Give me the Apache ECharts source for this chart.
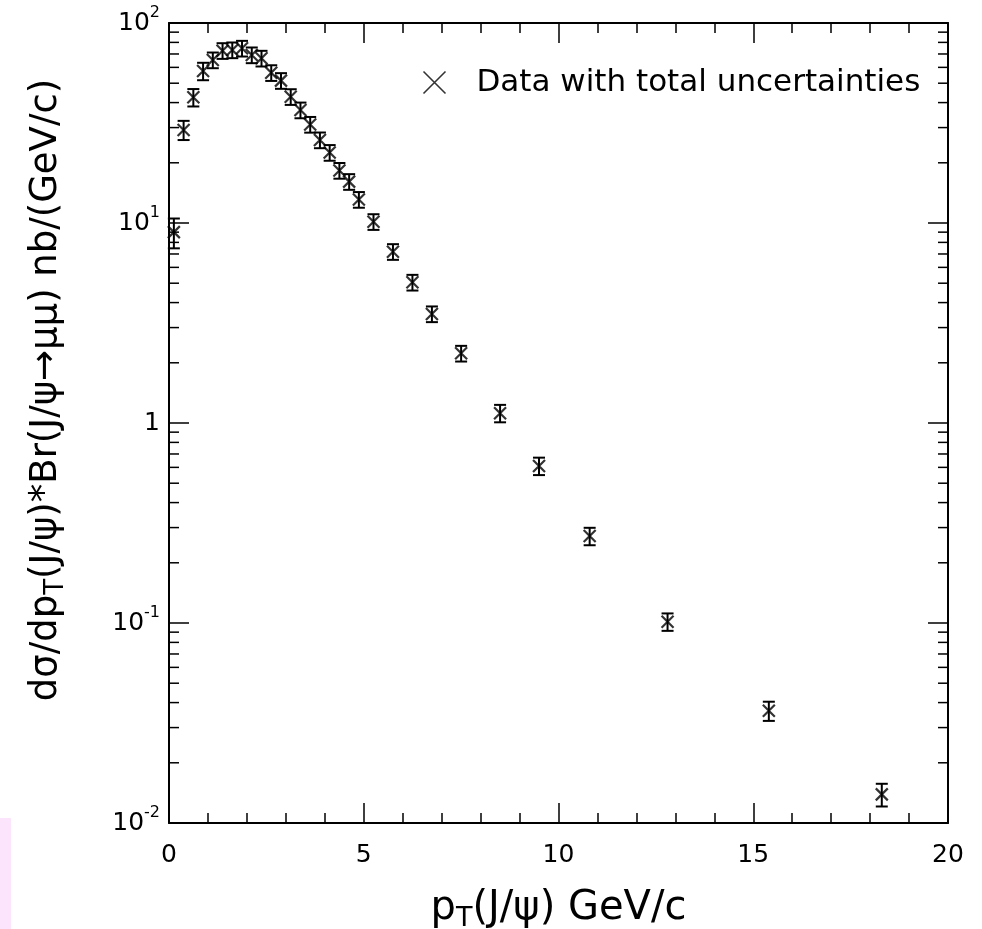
<!DOCTYPE html>
<html>
<head>
<meta charset="utf-8">
<script src="https://cdn.jsdelivr.net/npm/echarts@6/dist/echarts.min.js"></script>
<style>
html,body{margin:0;padding:0;background:#fff;}
#chart{width:982px;height:929px;}
</style>
</head>
<body>
<div id="chart"></div>
<script>
// ---- data ----
const pT = [0.125,0.375,0.625,0.875,1.125,1.375,1.625,1.875,2.125,2.375,2.625,2.875,3.125,3.375,3.625,3.875,4.125,4.375,4.625,4.875,5.25,5.75,6.25,6.75,7.5,8.5,9.5,10.8,12.8,15.4,18.3];
const xsec = [9.0,29.2,42.5,57.5,65.3,72.7,73.3,74.7,69.2,66.6,56.4,51.5,42.8,36.7,31.1,26.0,22.5,18.3,16.1,13.1,10.15,7.19,5.05,3.51,2.23,1.12,0.61,0.272,0.1015,0.0364,0.0139];
const errPct = [17,11,10,10,9,9,9,9,9,9,9,9,9,9,9,9,9,9,9,9,9,9,9,9,9,10,10,10,10,11,13];
const xTicks = [0,5,10,15,20];
const yTickExponents = [-2,-1,0,1,2];
const seriesName = 'Data with total uncertainties';
const xTitle = 'p{sub|T}(J/ψ) GeV/c';
const yTitle = 'dσ/dp{sub|T}(J/ψ)*Br(J/ψ→μμ) nb/(GeV/c)';

// ---- derived ----
const xMin = xTicks[0], xMax = xTicks[xTicks.length-1], xStep = xTicks[1]-xTicks[0];
const yMin = Math.pow(10, yTickExponents[0]);
const yMax = Math.pow(10, yTickExponents[yTickExponents.length-1]);
const yMinorTicks = [];
for (let e = yTickExponents[0]; e < yTickExponents[yTickExponents.length-1]; e++) {
  for (let m = 2; m <= 9; m++) yMinorTicks.push(m * Math.pow(10, e));
}
const pointData = pT.map((x,i)=>[x, xsec[i]]);
const errData = pT.map((x,i)=>[x, xsec[i], xsec[i]*(1-errPct[i]/100), xsec[i]*(1+errPct[i]/100)]);

const FONT = 'DejaVu Sans';
const crossPath = 'path://M0,0L10,10M10,0L0,10';

const axisLineStyle = {color:'#000', width:2};
const tickStyle = {color:'#000', width:1.5};

function yLabel(v){
  const e = Math.round(Math.log10(v));
  if (e === 0) return '{b|1}';
  return '{b|10}{sup|' + e + '}';
}

const chart = echarts.init(document.getElementById('chart'), null, {renderer:'canvas'});
chart.setOption({
  backgroundColor:'#fff',
  animation:false,
  textStyle:{fontFamily:FONT},
  graphic:[{type:'rect', left:0, top:818, shape:{width:11, height:111}, style:{fill:'#fce4fc'}, silent:true}],
  grid:{left:169, right:34, top:23, bottom:106, containLabel:false, outerBoundsMode:'none'},
  legend:{
    show:true, left:416, top:62, itemWidth:22, itemHeight:22,
    data:[{name:seriesName, icon:crossPath, itemStyle:{color:'none', borderColor:'#000', borderWidth:1.6}}],
    textStyle:{fontFamily:FONT, fontSize:31, color:'#000', padding:[0,0,0,26]}
  },
  xAxis:[
    {type:'value', min:xMin, max:xMax, interval:xStep, position:'bottom',
     axisLine:{show:true, onZero:false, lineStyle:axisLineStyle},
     axisTick:{show:true, inside:true, length:20, lineStyle:tickStyle},
     minorTick:{show:true, splitNumber:5, length:10, lineStyle:tickStyle},
     splitLine:{show:false}, minorSplitLine:{show:false},
     axisLabel:{fontFamily:FONT, fontSize:25, color:'#000', margin:20},
     name:xTitle, nameLocation:'middle', nameGap:62,
     nameTextStyle:{fontFamily:FONT, fontSize:40, color:'#000', rich:{sub:{fontFamily:FONT, fontSize:27, color:'#000', padding:[20,0,0,0]}}}
    },
    {type:'value', min:xMin, max:xMax, interval:xStep, position:'top',
     axisLine:{show:true, onZero:false, lineStyle:axisLineStyle},
     axisTick:{show:true, inside:true, length:20, lineStyle:tickStyle},
     minorTick:{show:true, splitNumber:5, length:10, lineStyle:tickStyle},
     splitLine:{show:false}, axisLabel:{show:false}
    }
  ],
  yAxis:[
    {type:'log', logBase:10, min:yMin, max:yMax, position:'left',
     axisLine:{show:true, onZero:false, lineStyle:axisLineStyle},
     axisTick:{show:true, inside:true, length:20, lineStyle:tickStyle},
     splitLine:{show:false},
     axisLabel:{margin:9, formatter:yLabel,
       rich:{b:{fontFamily:FONT, fontSize:25, color:'#000'},
             sup:{fontFamily:FONT, fontSize:16, color:'#000', padding:[0,0,20,0]}}},
     name:yTitle, nameLocation:'middle', nameGap:100, nameRotate:90,
     nameTextStyle:{fontFamily:FONT, fontSize:37, color:'#000', padding:[0,0,0,66],
       rich:{sub:{fontFamily:FONT, fontSize:26, color:'#000', padding:[20,0,0,0]}}}
    },
    {type:'log', logBase:10, min:yMin, max:yMax, position:'right',
     axisLine:{show:true, onZero:false, lineStyle:axisLineStyle},
     axisTick:{show:true, inside:true, length:20, lineStyle:tickStyle},
     splitLine:{show:false}, axisLabel:{show:false}
    }
  ],
  series:[
    {type:'custom', name:'minorTicks', silent:true, clip:false, z:3,
     data:yMinorTicks.map(v=>[xMin, v]),
     encode:{x:0, y:1},
     renderItem:function(params, api){
       const v = api.value(1);
       const l = api.coord([xMin, v]);
       const r = api.coord([xMax, v]);
       return {type:'group', children:[
         {type:'line', shape:{x1:l[0], y1:l[1], x2:l[0]+10, y2:l[1]}, style:{stroke:'#000', lineWidth:1.5}},
         {type:'line', shape:{x1:r[0]-10, y1:r[1], x2:r[0], y2:r[1]}, style:{stroke:'#000', lineWidth:1.5}}
       ]};
     }
    },
    {type:'custom', name:'errors', silent:true, z:4,
     data:errData, encode:{x:0, y:1},
     renderItem:function(params, api){
       const x = api.value(0);
       const lo = api.coord([x, api.value(2)]);
       const hi = api.coord([x, api.value(3)]);
       const w = 6;
       const st = {stroke:'#000', lineWidth:2};
       return {type:'group', children:[
         {type:'line', shape:{x1:lo[0], y1:lo[1], x2:hi[0], y2:hi[1]}, style:st},
         {type:'line', shape:{x1:hi[0]-w, y1:hi[1], x2:hi[0]+w, y2:hi[1]}, style:st},
         {type:'line', shape:{x1:lo[0]-w, y1:lo[1], x2:lo[0]+w, y2:lo[1]}, style:st}
       ]};
     }
    },
    {type:'scatter', name:seriesName, z:5, data:pointData,
     symbol:crossPath, symbolSize:12,
     itemStyle:{color:'none', borderColor:'#000', borderWidth:2.2}
    }
  ]
});
</script>
</body>
</html>
